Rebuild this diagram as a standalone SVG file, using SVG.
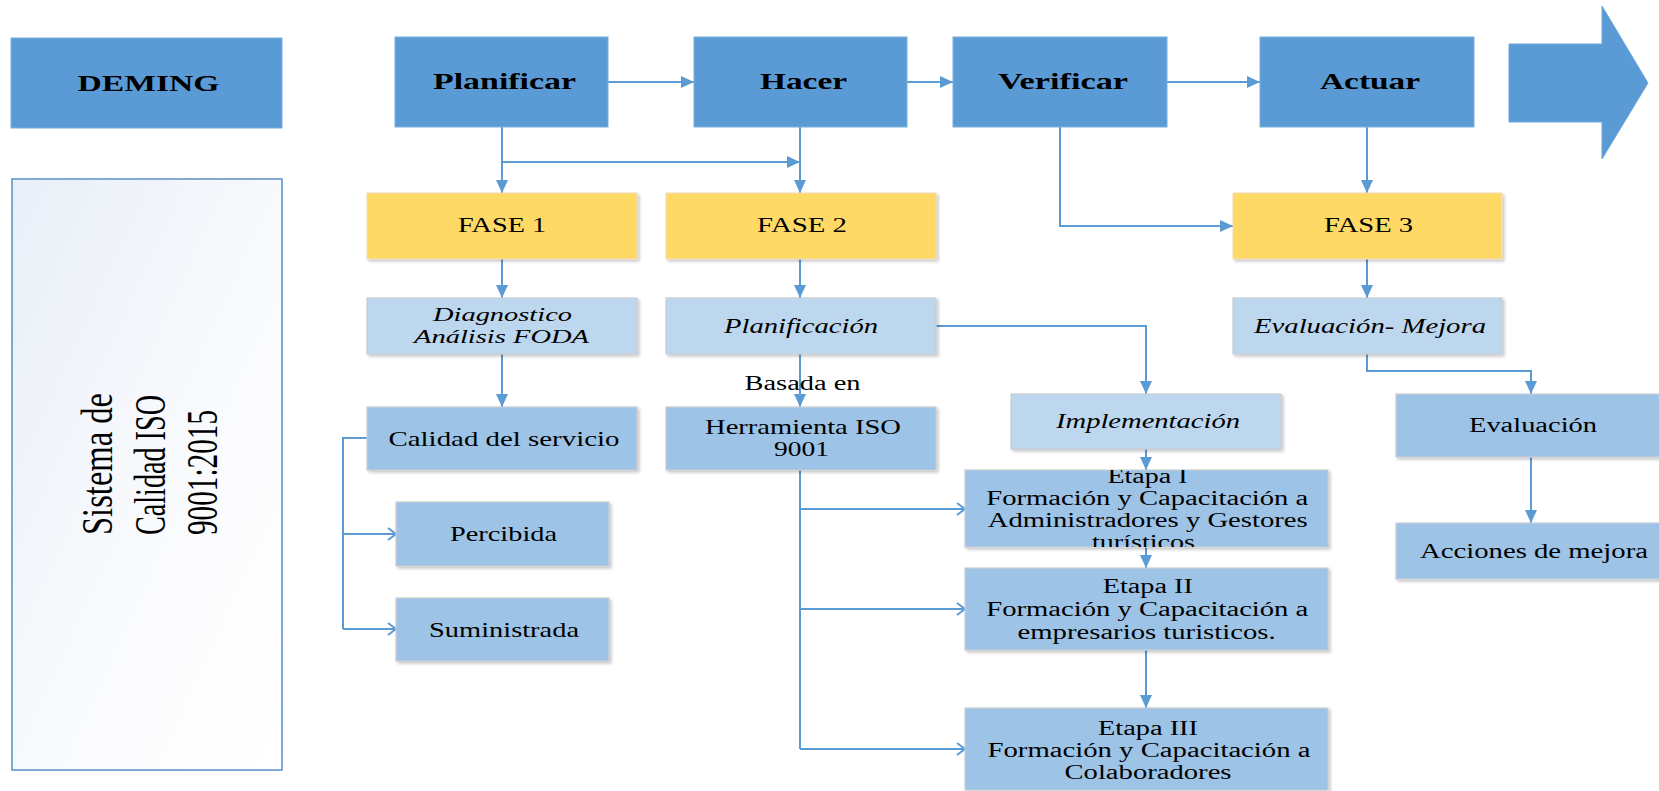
<svg xmlns="http://www.w3.org/2000/svg" width="1659" height="791" viewBox="0 0 1659 791">
<defs>
<style>
.t{font-family:"Liberation Serif","Times New Roman",serif;fill:#000;text-anchor:middle}
.b{font-weight:bold;font-size:23.5px}
.f{font-size:20px}
.i{font-style:italic;font-size:20px}
.r{font-size:20px}
.main{fill:#5B9BD5;stroke:#7AAEDD;stroke-width:1}
.fase{fill:#FFD966;stroke:#F2D9B8;stroke-width:1;filter:url(#sh)}
.lt{fill:#BDD7EE;stroke:#C8CDD3;stroke-width:1.2;filter:url(#sh)}
.md{fill:#9DC3E6;stroke:#C8CDD3;stroke-width:1.2;filter:url(#sh)}
.c{fill:none;stroke:#5B9BD5;stroke-width:2}
.ca{marker-end:url(#ah)}
.co{marker-end:url(#ao)}
</style>
<marker id="ah" markerUnits="userSpaceOnUse" markerWidth="14" markerHeight="14" refX="13" refY="6" orient="auto">
<path d="M0,0 L13,6 L0,12 z" fill="#5B9BD5"/>
</marker>
<marker id="ao" markerUnits="userSpaceOnUse" markerWidth="12" markerHeight="16" refX="9" refY="7" orient="auto">
<path d="M1,1 L9,7 L1,13" fill="none" stroke="#5B9BD5" stroke-width="2"/>
</marker>
<filter id="sh" x="-5%" y="-10%" width="115%" height="130%">
<feDropShadow dx="2" dy="2" stdDeviation="1.5" flood-color="#000" flood-opacity="0.22"/>
</filter>
<linearGradient id="gs" x1="0" y1="0" x2="1" y2="1">
<stop offset="0" stop-color="#E9EFF8"/>
<stop offset="0.6" stop-color="#FAFBFD"/>
<stop offset="1" stop-color="#FFFFFF"/>
</linearGradient>
<clipPath id="cpE1"><rect x="965" y="470" width="363" height="77"/></clipPath>
</defs>
<rect width="1659" height="791" fill="#FFFFFF"/>

<g id="connectors">
<path class="c ca" d="M608,82 H694"/>
<path class="c ca" d="M907,82 H953"/>
<path class="c ca" d="M1167,82 H1260"/>
<path class="c ca" d="M502,127 V193"/>
<path class="c ca" d="M502,162 H800"/>
<path class="c ca" d="M800,127 V193"/>
<path class="c ca" d="M1060,127 V226 H1233"/>
<path class="c ca" d="M1367,127 V193"/>
<path class="c ca" d="M502,259 V298"/>
<path class="c ca" d="M800,259 V298"/>
<path class="c ca" d="M1367,259 V298"/>
<path class="c ca" d="M502,354 V407"/>
<path class="c ca" d="M800,354 V407"/>
<path class="c ca" d="M936,326 H1146 V394"/>
<path class="c ca" d="M1146,449 V470"/>
<path class="c ca" d="M1146,547 V568"/>
<path class="c ca" d="M1146,650 V708"/>
<path class="c" d="M800,470 V749"/>
<path class="c co" d="M800,509 H965"/>
<path class="c co" d="M800,609 H965"/>
<path class="c co" d="M800,749 H965"/>
<path class="c" d="M367,438 H343 V629"/>
<path class="c co" d="M343,534 H396"/>
<path class="c co" d="M343,629 H396"/>
<path class="c ca" d="M1367,354 V371 H1531 V394"/>
<path class="c ca" d="M1531,457 V523"/>
<text class="t r" x="802.5" y="390" textLength="116" lengthAdjust="spacingAndGlyphs">Basada en</text>
</g>

<g id="deming">
<rect class="main" x="11" y="38" width="271" height="90"/>
<text class="t b" x="148.5" y="90.5" textLength="142" lengthAdjust="spacingAndGlyphs">DEMING</text>
</g>
<g id="planificar">
<rect class="main" x="395" y="37" width="213" height="90"/>
<text class="t b" x="504.5" y="88.5" textLength="143" lengthAdjust="spacingAndGlyphs">Planificar</text>
</g>
<g id="hacer">
<rect class="main" x="694" y="37" width="213" height="90"/>
<text class="t b" x="803.5" y="88.5" textLength="87" lengthAdjust="spacingAndGlyphs">Hacer</text>
</g>
<g id="verificar">
<rect class="main" x="953" y="37" width="214" height="90"/>
<text class="t b" x="1063" y="88.5" textLength="130" lengthAdjust="spacingAndGlyphs">Verificar</text>
</g>
<g id="actuar">
<rect class="main" x="1260" y="37" width="214" height="90"/>
<text class="t b" x="1370" y="88.5" textLength="100" lengthAdjust="spacingAndGlyphs">Actuar</text>
</g>
<g id="big-arrow">
<path d="M1509,44 H1602 V6 L1648,83 L1602,159 V122 H1509 Z" fill="#5B9BD5" stroke="#6FA6DA" stroke-width="1"/>
</g>

<g id="sistema">
<rect x="12" y="179" width="270" height="591" fill="url(#gs)" stroke="#5B8FC9" stroke-width="1.5"/>
<text class="t" style="font-size:44px;text-anchor:start" transform="translate(111.7,535) rotate(-90)" textLength="142" lengthAdjust="spacingAndGlyphs">Sistema de</text>
<text class="t" style="font-size:44px;text-anchor:start" transform="translate(165,535) rotate(-90)" textLength="140" lengthAdjust="spacingAndGlyphs">Calidad ISO</text>
<text class="t" style="font-size:44px;text-anchor:start" transform="translate(217,535) rotate(-90)" textLength="125" lengthAdjust="spacingAndGlyphs">9001:2015</text>
</g>

<g id="fase1">
<rect class="fase" x="367" y="193" width="270" height="66"/>
<text class="t f" x="502" y="232" textLength="88" lengthAdjust="spacingAndGlyphs">FASE 1</text>
</g>
<g id="fase2">
<rect class="fase" x="666" y="193" width="270" height="66"/>
<text class="t f" x="802" y="232" textLength="90" lengthAdjust="spacingAndGlyphs">FASE 2</text>
</g>
<g id="fase3">
<rect class="fase" x="1233" y="193" width="269" height="66"/>
<text class="t f" x="1368.5" y="232" textLength="89" lengthAdjust="spacingAndGlyphs">FASE 3</text>
</g>

<g id="diagnostico">
<rect class="lt" x="367" y="298" width="270" height="56"/>
<text class="t i" style="font-size:19px" x="502.5" y="320.5" textLength="139" lengthAdjust="spacingAndGlyphs">Diagnostico</text>
<text class="t i" style="font-size:19px" x="501.5" y="343" textLength="175" lengthAdjust="spacingAndGlyphs">Análisis FODA</text>
</g>
<g id="planificacion">
<rect class="lt" x="666" y="298" width="270" height="56"/>
<text class="t i" x="801" y="332.5" textLength="154" lengthAdjust="spacingAndGlyphs">Planificación</text>
</g>
<g id="evaluacion-mejora">
<rect class="lt" x="1233" y="298" width="269" height="56"/>
<text class="t i" x="1370" y="332.5" textLength="232" lengthAdjust="spacingAndGlyphs">Evaluación- Mejora</text>
</g>
<g id="implementacion">
<rect class="lt" x="1011" y="394" width="270" height="55"/>
<text class="t i" x="1148" y="427.5" textLength="184" lengthAdjust="spacingAndGlyphs">Implementación</text>
</g>

<g id="calidad">
<rect class="md" x="367" y="407" width="270" height="63"/>
<text class="t r" style="font-size:21px" x="504" y="445.5" textLength="231" lengthAdjust="spacingAndGlyphs">Calidad del servicio</text>
</g>
<g id="herramienta">
<rect class="md" x="666" y="407" width="270" height="63"/>
<text class="t r" style="font-size:21px" x="803" y="434" textLength="196" lengthAdjust="spacingAndGlyphs">Herramienta ISO</text>
<text class="t r" style="font-size:21px" x="801.5" y="455.5" textLength="55" lengthAdjust="spacingAndGlyphs">9001</text>
</g>
<g id="percibida">
<rect class="md" x="396" y="502" width="213" height="64"/>
<text class="t r" style="font-size:21px" x="503.5" y="541" textLength="107" lengthAdjust="spacingAndGlyphs">Percibida</text>
</g>
<g id="suministrada">
<rect class="md" x="396" y="598" width="213" height="63"/>
<text class="t r" style="font-size:21px" x="504" y="637" textLength="150" lengthAdjust="spacingAndGlyphs">Suministrada</text>
</g>

<g id="etapa1">
<rect class="md" x="965" y="470" width="363" height="77"/>
<g clip-path="url(#cpE1)">
<text class="t r" x="1147.5" y="483" textLength="80" lengthAdjust="spacingAndGlyphs">Etapa I</text>
<text class="t r" x="1147.3" y="505" textLength="322" lengthAdjust="spacingAndGlyphs">Formación y Capacitación a</text>
<text class="t r" x="1147.7" y="527" textLength="320" lengthAdjust="spacingAndGlyphs">Administradores y Gestores</text>
<text class="t r" x="1143.5" y="549" textLength="103" lengthAdjust="spacingAndGlyphs">turísticos</text>
</g>
</g>
<g id="etapa2">
<rect class="md" x="965" y="568" width="363" height="82"/>
<text class="t r" x="1147.8" y="593" textLength="90" lengthAdjust="spacingAndGlyphs">Etapa II</text>
<text class="t r" x="1147.3" y="616" textLength="322" lengthAdjust="spacingAndGlyphs">Formación y Capacitación a</text>
<text class="t r" x="1146.6" y="638.5" textLength="258" lengthAdjust="spacingAndGlyphs">empresarios turisticos.</text>
</g>
<g id="etapa3">
<rect class="md" x="965" y="708" width="363" height="82"/>
<text class="t r" x="1148" y="735" textLength="100" lengthAdjust="spacingAndGlyphs">Etapa III</text>
<text class="t r" x="1149" y="756.5" textLength="323" lengthAdjust="spacingAndGlyphs">Formación y Capacitación a</text>
<text class="t r" x="1148" y="779" textLength="167" lengthAdjust="spacingAndGlyphs">Colaboradores</text>
</g>

<g id="evaluacion">
<rect class="md" x="1396" y="394" width="270" height="63"/>
<text class="t r" x="1533" y="432" textLength="128" lengthAdjust="spacingAndGlyphs">Evaluación</text>
</g>
<g id="acciones">
<rect class="md" x="1396" y="523" width="270" height="56"/>
<text class="t r" x="1534" y="558" textLength="228" lengthAdjust="spacingAndGlyphs">Acciones de mejora</text>
</g>
</svg>
